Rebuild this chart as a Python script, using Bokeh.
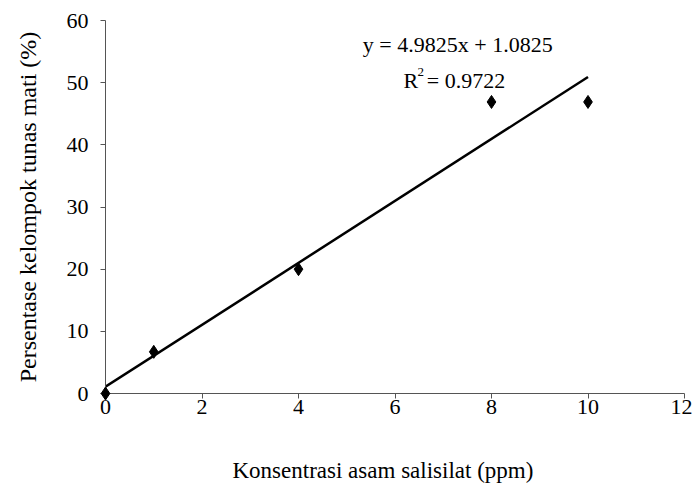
from bokeh.plotting import figure
from bokeh.models import Range1d, Label, FixedTicker, Title
from bokeh.embed import file_html
from bokeh.resources import INLINE
import numpy as np

# data
conc = [0, 1, 4, 8, 10]
pct = [0, 6.7, 20.0, 46.9, 46.9]
slope = 4.9825
intercept = 1.0825
r2 = 0.9722
x_ticks = [0, 2, 4, 6, 8, 10, 12]
y_ticks = [0, 10, 20, 30, 40, 50, 60]
x_title = "Konsentrasi asam salisilat (ppm)"
y_title = "Persentase kelompok tunas mati (%)"

FONT = "Liberation Serif"

p = figure(width=692, height=488, output_backend="svg", toolbar_location=None,
           x_range=Range1d(0, 12), y_range=Range1d(0, 60),
           min_border_left=105, min_border_right=8, min_border_top=20, min_border_bottom=95)
p.outline_line_color = None
p.grid.visible = False
p.background_fill_color = "white"

for ax in (p.xaxis[0], p.yaxis[0]):
    ax.axis_line_color = "#555555"
    ax.major_tick_line_color = "#555555"
    ax.major_tick_in = 0
    ax.major_tick_out = 5
    ax.minor_tick_line_color = None
    ax.major_label_text_font = FONT
    ax.major_label_text_font_size = "22px"
    ax.major_label_text_color = "black"
    ax.axis_label_text_font = FONT
    ax.axis_label_text_font_size = "24px"
    ax.axis_label_text_font_style = "normal"
    ax.axis_label_text_color = "black"

p.xaxis.ticker = FixedTicker(ticks=x_ticks)
p.yaxis.ticker = FixedTicker(ticks=y_ticks)
p.yaxis.axis_label = y_title
p.xaxis.major_label_standoff = 1
p.yaxis.major_label_standoff = 12
p.yaxis.axis_label_standoff = 23

# spacer so the x title (placed as a Title, shifted left like the original) sits lower
p.xaxis.axis_label = " "
p.xaxis.axis_label_text_font_size = "2px"
p.xaxis.axis_label_standoff = 32

xt = Title(text=x_title, align="left", offset=127, text_font=FONT, text_font_size="23px",
           text_font_style="normal", text_color="black", standoff=4)
p.add_layout(xt, "below")

# trend line
xs = np.array([min(conc), max(conc)], dtype=float)
p.line(xs, slope * xs + intercept, line_color="black", line_width=2.5)

# points
p.scatter(conc, pct, marker="diamond", size=13, fill_color="black", line_color="black", level="overlay")

eq = Label(x=7.3, y=56.2, text=f"y = {slope}x + {intercept}", text_font=FONT, text_font_size="22px",
           text_align="center", text_baseline="middle", text_color="black")
p.add_layout(eq)
r_lab = Label(x=7.3, y=50.4, x_offset=-47, text="R", text_font=FONT, text_font_size="22px",
              text_align="center", text_baseline="middle", text_color="black")
sup = Label(x=7.3, y=50.4, x_offset=-37, y_offset=8, text="2", text_font=FONT, text_font_size="13px",
            text_align="center", text_baseline="middle", text_color="black")
val = Label(x=7.3, y=50.4, x_offset=-31, text=f"= {r2}", text_font=FONT, text_font_size="22px",
            text_align="left", text_baseline="middle", text_color="black")
for l in (r_lab, sup, val):
    p.add_layout(l)

open("out.html", "w").write(file_html(p, INLINE))
